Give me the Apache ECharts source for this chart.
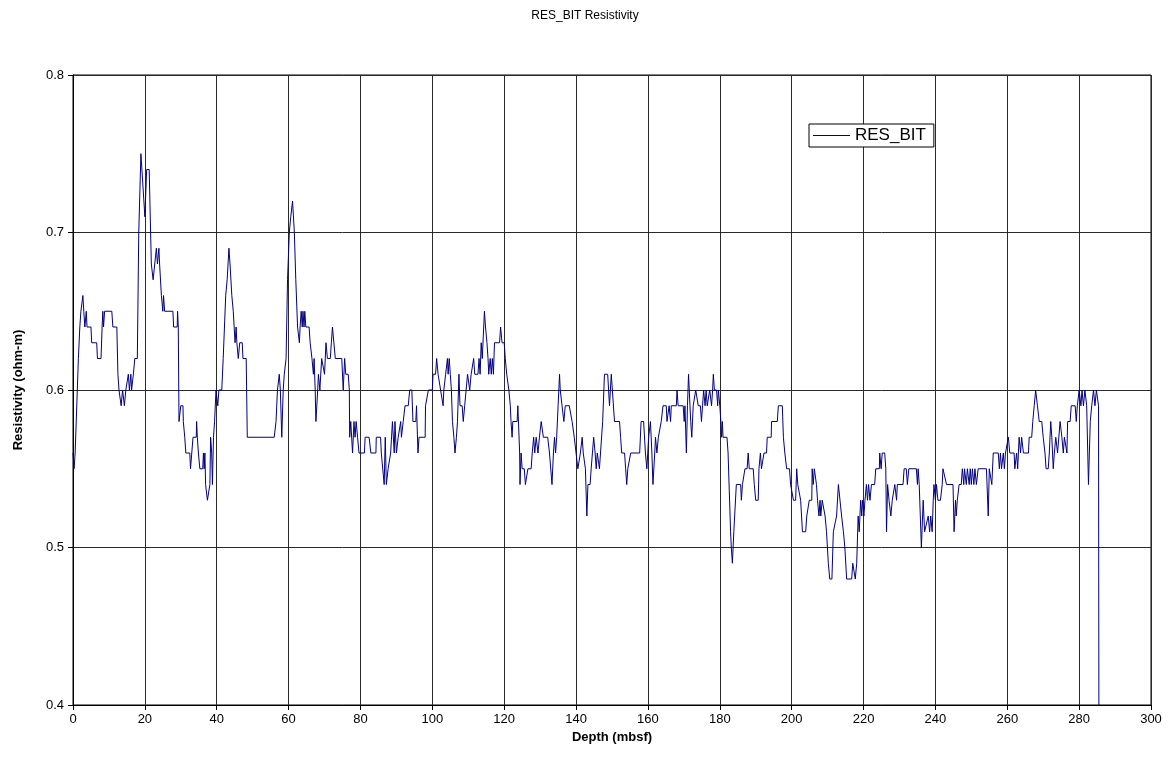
<!DOCTYPE html>
<html>
<head>
<meta charset="utf-8">
<script src="https://cdn.jsdelivr.net/npm/echarts@6/dist/echarts.min.js"></script>
<style>
html,body{margin:0;padding:0;background:#fff;}
#chart{width:1170px;height:774px;}
</style>
</head>
<body>
<div id="chart"></div>
<script>
// Depth (mbsf) and RES_BIT resistivity (ohm-m)
const depth = [
0.0,0.3,0.6,1.2,1.5,1.9,2.2,2.75,3.0,3.3,3.7,3.9,5.0,5.2,6.6,6.8,7.8,8.1,8.3,8.5,8.8,10.8,11.1,12.2,12.5,12.8,13.4,13.8,14.3,14.7,15.4,15.7,16.1,16.3,16.8,17.2,17.9,18.3,18.9,19.4,20.0,20.5,21.2,21.8,22.3,22.8,23.2,23.5,23.9,24.1,24.6,25.0,25.2,25.5,
27.8,28.0,29.0,29.1,29.3,29.5,30.0,30.6,30.7,31.1,31.4,32.5,32.7,33.2,33.4,34.3,34.4,34.6,34.9,35.3,36.1,36.3,36.5,36.7,36.9,37.4,37.8,38.1,38.3,38.6,38.8,39.1,39.4,39.8,40.3,40.6,41.4,41.8,42.5,42.9,43.4,43.7,44.2,44.6,45.1,45.4,45.6,46.0,46.4,47.1,47.3,48.2,48.5,
56.0,56.5,56.9,57.4,57.7,58.1,58.5,58.8,59.3,59.7,60.2,60.6,61.1,61.6,62.0,62.5,63.0,63.2,63.5,63.8,64.0,64.3,64.5,64.8,65.7,66.0,66.5,66.9,67.1,67.4,67.6,68.1,68.3,68.7,69.2,69.7,70.0,70.4,70.8,71.6,71.9,72.2,72.7,73.0,74.8,75.2,75.6,75.9,76.6,76.9,77.0,77.3,77.8,78.2,78.5,78.8,79.2,79.6,81.1,81.3,82.4,82.9,
84.3,84.4,85.6,85.8,86.3,86.6,86.9,87.2,87.7,88.1,88.4,88.9,89.4,89.6,90.0,90.5,91.2,91.4,91.7,91.9,92.4,93.3,93.7,94.3,94.6,95.4,95.6,96.0,96.3,98.0,98.1,98.6,98.9,100.0,100.2,100.9,101.2,101.6,102.0,102.3,103.0,103.2,103.7,104.2,104.4,104.7,105.0,105.3,105.6,106.0,106.3,106.7,107.0,107.4,107.7,108.3,108.6,109.0,109.5,109.8,
110.4,110.8,111.5,111.8,112.7,113.0,113.3,113.6,113.9,114.3,114.5,114.8,115.2,115.5,115.7,116.1,116.4,116.7,117.0,117.3,118.7,119.0,119.4,120.0,120.3,120.7,121.3,121.7,121.9,122.2,122.4,123.6,123.8,124.1,124.3,124.4,124.7,125.0,125.6,125.9,126.3,126.6,127.5,127.8,128.2,128.5,128.9,129.4,129.8,130.3,130.6,130.9,132.1,132.6,133.1,133.3,133.7,134.0,134.3,134.6,135.0,135.4,135.6,136.1,136.6,137.0,138.1,
138.6,138.9,139.3,139.5,140.0,140.5,140.9,141.2,141.7,142.0,142.6,143.0,143.3,143.9,144.2,144.7,144.9,145.3,145.6,145.9,146.3,146.5,146.8,147.2,147.4,147.9,148.8,149.3,149.8,150.2,150.7,152.1,152.4,152.7,153.5,153.8,154.1,154.4,154.9,155.2,157.7,158.1,158.8,159.3,159.7,160.2,160.7,161.1,161.4,161.9,162.1,162.5,162.9,163.3,163.7,164.2,165.1,165.3,165.9,166.3,
166.5,167.9,168.1,168.4,169.8,170.1,170.3,170.5,170.7,171.0,171.3,171.7,171.9,172.2,172.6,173.0,173.3,173.7,174.0,174.6,174.9,175.2,175.5,175.9,176.2,176.5,177.0,177.2,177.7,178.0,178.2,178.5,179.1,179.4,179.6,180.0,180.3,180.5,180.7,180.9,182.0,182.3,183.0,183.2,183.5,183.9,184.2,184.6,185.8,186.0,186.3,186.7,187.0,187.6,187.9,188.2,189.3,189.6,190.0,190.7,190.9,191.3,191.6,192.1,192.3,193.0,193.2,193.7,
194.3,194.4,196.0,196.3,197.4,197.7,198.1,198.6,199.4,199.7,200.1,200.5,201.1,201.4,201.7,202.1,202.5,203.0,203.9,204.2,204.6,204.9,205.6,205.7,206.0,206.3,206.7,206.9,207.2,207.6,207.9,208.1,208.5,209.0,209.3,209.7,210.2,210.6,211.2,211.6,212.0,212.5,213.0,213.4,213.9,214.4,214.8,215.3,216.7,217.0,217.4,217.7,218.1,218.5,218.8,219.2,219.5,219.7,220.1,220.4,220.8,221.1,221.4,221.8,
222.2,223.1,223.4,224.4,224.5,224.9,225.2,225.9,226.2,226.4,226.7,227.1,227.6,228.0,228.4,228.7,229.2,229.4,231.0,231.3,231.9,232.2,232.6,234.7,235.0,235.2,235.5,235.8,236.1,236.6,237.0,237.5,238.0,238.4,238.7,239.1,239.4,239.6,240.0,240.3,240.7,241.4,241.9,242.1,242.6,243.1,244.9,245.2,245.6,245.8,246.1,246.6,247.2,247.5,247.9,248.1,248.6,248.9,249.4,249.7,
250.0,250.3,250.7,251.0,251.4,251.9,254.2,254.7,255.0,255.4,255.7,256.1,257.5,257.8,258.1,258.4,258.9,259.2,259.5,260.0,260.3,260.7,261.9,262.1,262.6,262.9,263.3,263.7,264.0,264.5,265.9,266.1,266.8,267.1,267.5,267.9,268.4,268.9,269.6,270.0,270.5,270.8,271.4,271.7,272.1,272.4,272.8,273.1,273.5,274.0,274.7,275.2,275.6,275.9,276.6,276.8,277.5,277.8,278.9,279.2,279.5,280.0,280.5,280.8,281.2,281.6,282.1,282.6,283.1,283.5,284.0,284.4,284.8,285.1,285.4,285.7
];
const resistivity = [
0.56,0.55,0.56,0.60,0.62,0.64,0.65,0.66,0.65,0.64,0.65,0.64,0.64,0.63,0.63,0.62,0.62,0.64,0.65,0.64,0.65,0.65,0.64,0.64,0.61,0.60,0.59,0.60,0.59,0.60,0.61,0.60,0.61,0.60,0.61,0.62,0.62,0.70,0.75,0.75,0.71,0.74,0.74,0.68,0.67,0.67,0.69,0.68,0.69,0.68,0.66,0.65,0.66,0.65,
0.65,0.64,0.64,0.65,0.64,0.58,0.59,0.59,0.58,0.57,0.56,0.56,0.55,0.55,0.57,0.57,0.58,0.57,0.56,0.55,0.55,0.56,0.55,0.56,0.54,0.53,0.53,0.54,0.57,0.56,0.54,0.57,0.58,0.60,0.59,0.60,0.60,0.62,0.66,0.67,0.69,0.68,0.66,0.65,0.63,0.64,0.63,0.62,0.63,0.63,0.62,0.62,0.57,
0.57,0.58,0.60,0.61,0.60,0.57,0.60,0.61,0.62,0.67,0.70,0.71,0.72,0.70,0.67,0.64,0.63,0.64,0.65,0.64,0.65,0.64,0.65,0.64,0.64,0.63,0.62,0.61,0.62,0.60,0.58,0.60,0.61,0.60,0.62,0.62,0.61,0.63,0.62,0.62,0.63,0.64,0.64,0.62,0.62,0.60,0.62,0.61,0.61,0.60,0.57,0.58,0.56,0.58,0.57,0.58,0.57,0.56,0.56,0.57,0.57,0.56,
0.56,0.57,0.57,0.56,0.56,0.54,0.57,0.54,0.55,0.55,0.56,0.58,0.56,0.58,0.56,0.57,0.58,0.57,0.57,0.58,0.59,0.59,0.60,0.60,0.58,0.58,0.59,0.56,0.57,0.57,0.59,0.59,0.60,0.60,0.61,0.61,0.62,0.61,0.61,0.60,0.59,0.60,0.61,0.62,0.61,0.62,0.61,0.60,0.58,0.57,0.56,0.57,0.58,0.61,0.59,0.59,0.58,0.59,0.59,0.61,
0.60,0.61,0.62,0.61,0.61,0.62,0.61,0.63,0.62,0.64,0.65,0.64,0.63,0.62,0.61,0.62,0.61,0.62,0.61,0.63,0.63,0.64,0.63,0.63,0.62,0.61,0.60,0.59,0.58,0.57,0.58,0.58,0.59,0.59,0.56,0.54,0.56,0.55,0.55,0.54,0.54,0.55,0.55,0.56,0.57,0.56,0.57,0.56,0.57,0.58,0.58,0.57,0.57,0.56,0.56,0.54,0.56,0.57,0.56,0.57,0.59,0.61,0.60,0.59,0.58,0.59,0.59,
0.59,0.58,0.58,0.57,0.56,0.55,0.55,0.56,0.57,0.56,0.55,0.52,0.54,0.54,0.55,0.55,0.57,0.56,0.55,0.56,0.56,0.55,0.56,0.56,0.58,0.61,0.61,0.59,0.61,0.61,0.58,0.58,0.57,0.56,0.56,0.55,0.54,0.55,0.55,0.56,0.56,0.58,0.58,0.56,0.55,0.57,0.58,0.56,0.54,0.56,0.57,0.56,0.57,0.57,0.58,0.59,0.59,0.58,0.59,0.58,
0.59,0.59,0.60,0.59,0.59,0.58,0.59,0.59,0.56,0.59,0.61,0.59,0.58,0.57,0.59,0.59,0.60,0.60,0.59,0.59,0.58,0.59,0.60,0.59,0.60,0.59,0.59,0.60,0.59,0.60,0.61,0.60,0.60,0.59,0.60,0.59,0.58,0.57,0.58,0.57,0.57,0.56,0.51,0.50,0.49,0.51,0.51,0.54,0.54,0.53,0.54,0.54,0.55,0.55,0.56,0.55,0.55,0.54,0.53,0.53,0.55,0.56,0.55,0.55,0.56,0.56,0.57,0.57,
0.57,0.58,0.58,0.59,0.59,0.57,0.56,0.55,0.55,0.54,0.54,0.53,0.53,0.55,0.54,0.54,0.53,0.51,0.51,0.52,0.52,0.53,0.53,0.55,0.54,0.55,0.55,0.54,0.53,0.52,0.53,0.52,0.53,0.53,0.52,0.51,0.49,0.48,0.48,0.51,0.51,0.52,0.54,0.54,0.52,0.51,0.50,0.48,0.48,0.49,0.49,0.48,0.49,0.52,0.51,0.53,0.52,0.53,0.52,0.53,0.54,0.53,0.54,0.53,
0.54,0.54,0.55,0.55,0.56,0.55,0.56,0.56,0.55,0.51,0.54,0.53,0.52,0.53,0.53,0.54,0.53,0.54,0.54,0.55,0.55,0.54,0.55,0.55,0.54,0.55,0.54,0.54,0.50,0.53,0.51,0.51,0.52,0.51,0.52,0.51,0.53,0.54,0.53,0.54,0.53,0.53,0.54,0.55,0.55,0.54,0.54,0.51,0.53,0.52,0.53,0.54,0.54,0.55,0.54,0.55,0.54,0.55,0.54,0.55,
0.54,0.55,0.54,0.55,0.54,0.55,0.55,0.52,0.55,0.55,0.54,0.56,0.56,0.55,0.56,0.55,0.56,0.55,0.56,0.56,0.57,0.56,0.56,0.55,0.56,0.55,0.57,0.56,0.57,0.56,0.56,0.57,0.57,0.58,0.59,0.60,0.59,0.58,0.58,0.57,0.56,0.55,0.55,0.56,0.58,0.57,0.55,0.56,0.57,0.56,0.58,0.57,0.56,0.57,0.56,0.58,0.58,0.59,0.59,0.58,0.59,0.60,0.59,0.60,0.59,0.60,0.59,0.54,0.58,0.59,0.60,0.59,0.60,0.60,0.59,0.0
];
const xTicks = {min: 0, max: 300, step: 20};
const yTicks = {min: 0.4, max: 0.8, step: 0.1};
const seriesName = 'RES_BIT';
const titleText = 'RES_BIT Resistivity';
const xName = 'Depth (mbsf)';
const yName = 'Resistivity (ohm-m)';

const points = depth.map((d, i) => [d, resistivity[i]]);
const FONT = '"Liberation Sans", Arial, sans-serif';

const chart = echarts.init(document.getElementById('chart'), null, {renderer: 'canvas'});
chart.setOption({
  backgroundColor: '#ffffff',
  animation: false,
  textStyle: {fontFamily: FONT},
  title: {
    text: titleText,
    left: 'center',
    top: 5,
    textStyle: {fontFamily: FONT, fontSize: 12, fontWeight: 'normal', color: '#000'}
  },
  legend: {
    data: [seriesName],
    left: 809,
    top: 124,
    orient: 'vertical',
    backgroundColor: '#ffffff',
    borderColor: '#000',
    borderWidth: 1,
    borderRadius: 0,
    padding: [3, 8, 3, 4],
    icon: 'rect',
    itemWidth: 37,
    itemHeight: 1,
    itemStyle: {color: '#000080'},
    textStyle: {fontFamily: FONT, fontSize: 17, color: '#000'}
  },
  grid: {
    left: 73,
    right: 19,
    top: 75,
    bottom: 69,
    show: true,
    borderColor: '#000',
    borderWidth: 1,
    backgroundColor: '#ffffff'
  },
  xAxis: {
    type: 'value',
    min: xTicks.min,
    max: xTicks.max,
    interval: xTicks.step,
    name: xName,
    nameLocation: 'middle',
    nameGap: 20,
    nameTextStyle: {fontFamily: FONT, fontSize: 13, fontWeight: 'bold', color: '#000'},
    axisLine: {show: true, onZero: false, lineStyle: {color: '#000', width: 1}},
    axisTick: {show: true, inside: false, length: 5, lineStyle: {color: '#000'}},
    axisLabel: {fontFamily: FONT, fontSize: 13, color: '#000', margin: 8},
    splitLine: {show: true, lineStyle: {color: '#2a2a2a', width: 1}}
  },
  yAxis: {
    type: 'value',
    min: yTicks.min,
    max: yTicks.max,
    interval: yTicks.step,
    name: yName,
    nameLocation: 'middle',
    nameGap: 48,
    nameRotate: 90,
    nameTextStyle: {fontFamily: FONT, fontSize: 13, fontWeight: 'bold', color: '#000'},
    axisLine: {show: true, onZero: false, lineStyle: {color: '#000', width: 1}},
    axisTick: {show: true, inside: false, length: 5, lineStyle: {color: '#000'}},
    axisLabel: {fontFamily: FONT, fontSize: 13, color: '#000', margin: 9,
      formatter: v => v.toFixed(1)},
    splitLine: {show: true, lineStyle: {color: '#2a2a2a', width: 1}}
  },
  series: [{
    name: seriesName,
    type: 'line',
    data: points,
    showSymbol: false,
    symbol: 'none',
    clip: true,
    lineStyle: {color: '#000080', width: 1},
    itemStyle: {color: '#000080'}
  }]
});
</script>
</body>
</html>
